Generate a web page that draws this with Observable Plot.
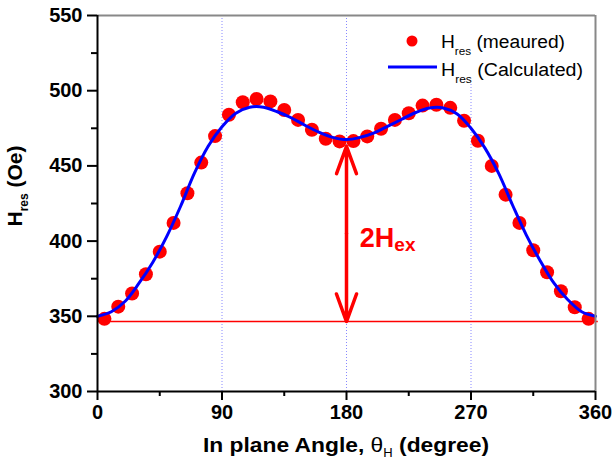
<!DOCTYPE html>
<html><head><meta charset="utf-8">
<script src="https://cdn.jsdelivr.net/npm/d3@7"></script>
<script src="https://cdn.jsdelivr.net/npm/@observablehq/plot@0.6"></script>
<style>
body{margin:0;background:#fff}
svg{font-family:Arial,"Liberation Sans",sans-serif}
</style>
</head><body><div id="chart"></div>
<script>
// measured resonance field (red dots)
const measuredAngle = [5,15,25,35,45,55,65,75,85,95,105,115,125,135,145,155,165,175,185,195,205,215,225,235,245,255,265,275,285,295,305,315,325,335,345,355];
const measuredH = [348.3,356.4,365.2,378,393,412.1,431.8,452.2,469.8,484,492.3,494.5,492.9,487.2,480.6,474,468.1,466.3,466.5,469.6,474.7,480.6,485,490.1,490.7,488.6,480,466.7,450,430.9,412.1,393.9,379.3,366.7,356,348.3];
// calculated curve (blue line)
const calcAngle = [0,10,20,30,40,50,60,70,80,90,100,110,120,130,140,150,160,170,180,190,200,210,220,230,240,250,260,270,280,290,300,310,320,330,340,350,360];
const calcH = [350,353,360,372,386,403,423,445,463,476,485,489,489,486,482,477,472.5,469,467.5,469,472,476.5,481,485.5,488.5,488.5,484.5,475,462,445,424,404,387,372,361,353,350];
// axes
const xTicks = [0,90,180,270,360];
const xMinorTicks = [45,135,225,315];
const yTicks = [300,350,400,450,500,550];
const yMinorTicks = [325,375,425,475,525];
// guides and annotation
const guideAngles = [90,180,270];
const guideTop = [550,550,505];
const baselineH = 346.5;
const exchangeTop = 463;
const arrowAngle = 180;
const arrowMid = 405;
const labelAngle = 190;
const labelH = 402;

const measured = measuredAngle.map((a,i)=>({a, h: measuredH[i]}));
const calc = calcAngle.map((a,i)=>({a, h: calcH[i]}));
const guides = guideAngles.map((a,i)=>({a, top: guideTop[i]}));

const plot = Plot.plot({
  width: 613, height: 465,
  marginLeft: 97, marginRight: 18, marginTop: 15, marginBottom: 74,
  x: {domain: [0,360]},
  y: {domain: [300,550]},
  style: {background: "#fff", fontFamily: "Arial, 'Liberation Sans', sans-serif", overflow: "visible"},
  marks: [
    Plot.ruleX(guides, {x: "a", y1: 300, y2: "top", stroke: "#8888ff", strokeWidth: 1, strokeDasharray: "1,2"}),
    Plot.ruleY([baselineH], {x1: 0, x2: 362, stroke: "#ff0000", strokeWidth: 1.5, clip: false}),
    Plot.dot(measured, {x: "a", y: "h", r: 7, fill: "#ff0000", stroke: "none"}),
    Plot.line(calc, {x: "a", y: "h", stroke: "#0000ff", strokeWidth: 3, curve: "catmull-rom"}),
    Plot.arrow([{y1: arrowMid, y2: exchangeTop}, {y1: arrowMid, y2: baselineH}], {x: arrowAngle, y1: "y1", y2: "y2", stroke: "#ff0000", strokeWidth: 3.5, headLength: 16, headAngle: 40}),
    Plot.ruleY([550], {stroke: "#888", strokeWidth: 2}),
    Plot.ruleX([360], {stroke: "#888", strokeWidth: 2}),
    Plot.ruleX([0], {stroke: "#000", strokeWidth: 2}),
    Plot.ruleY([300], {stroke: "#000", strokeWidth: 2}),
    Plot.axisX(xTicks, {tickSize: 9, tickPadding: 4, fontSize: 20, fontWeight: "bold", fill: "#000", stroke: "#000", strokeWidth: 2, label: null}),
    Plot.axisX(xMinorTicks, {tickSize: 5, text: null, stroke: "#000", strokeWidth: 2, label: null}),
    Plot.axisY(yTicks, {tickSize: 10, tickPadding: 5, fontSize: 20, fontWeight: "bold", fill: "#000", stroke: "#000", strokeWidth: 2, label: null}),
    Plot.axisY(yMinorTicks, {tickSize: 6, text: null, stroke: "#000", strokeWidth: 2, label: null})
  ]
});
document.getElementById("chart").append(plot);

const svg = d3.select(plot);
const sx = plot.scale("x"), sy = plot.scale("y");

// 2H_ex annotation
const ann = svg.append("text").attr("x", sx.apply(labelAngle)).attr("y", sy.apply(labelH) + 9)
  .style("text-anchor", "start").style("fill", "#ff0000").style("font-weight", "bold").style("font-size", "27px");
ann.append("tspan").text("2H");
ann.append("tspan").style("font-size", "19px").attr("dy", 4).text("ex");

// x label
const xl = svg.append("text").attr("x", 203).attr("y", 452).style("text-anchor", "start")
  .attr("textLength", 286).attr("lengthAdjust", "spacingAndGlyphs")
  .style("font-weight", "bold").style("font-size", "21px").style("fill", "#000");
xl.append("tspan").text("In plane Angle, ");
xl.append("tspan").style("font-weight", "normal").text("θ");
xl.append("tspan").style("font-size", "12px").style("font-weight", "normal").attr("dy", 5).text("H");
xl.append("tspan").attr("dy", -5).text(" (degree)");

// y label
const yl = svg.append("text").attr("transform", "translate(22,186) rotate(-90)").style("text-anchor", "middle")
  .style("font-weight", "bold").style("font-size", "21px").style("fill", "#000");
yl.append("tspan").text("H");
yl.append("tspan").style("font-size", "12px").attr("dy", 6).text("res");
yl.append("tspan").attr("dy", -6).text(" (Oe)");

// legend
const lg = svg.append("g");
lg.append("circle").attr("cx", 412).attr("cy", 41).attr("r", 5.5).attr("fill", "#ff0000");
lg.append("line").attr("x1", 388).attr("x2", 437).attr("y1", 67).attr("y2", 67).attr("stroke", "#0000ff").attr("stroke-width", 3);
[["(meaured)", 48, 124], ["(Calculated)", 75.5, 142]].forEach(([t, y, w]) => {
  const tx = lg.append("text").attr("x", 441).attr("y", y)
    .attr("textLength", w).attr("lengthAdjust", "spacingAndGlyphs")
    .style("text-anchor", "start").style("font-size", "18px").style("fill", "#000");
  tx.append("tspan").text("H");
  tx.append("tspan").style("font-size", "11px").attr("dy", 7).text("res");
  tx.append("tspan").attr("dy", -7).text(" " + t);
});
</script>
</body></html>
